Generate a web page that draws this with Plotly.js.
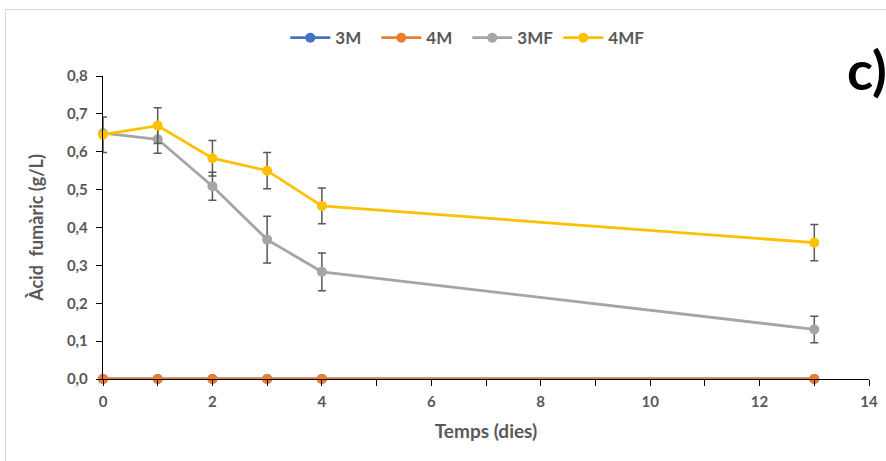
<!DOCTYPE html>
<html>
<head>
<meta charset="utf-8">
<script src="https://cdn.plot.ly/plotly-3.0.1.min.js"></script>
<style>
html,body{margin:0;padding:0;background:#fff;overflow:hidden;}
#chart{width:886px;height:461px;}
#frame{position:absolute;left:5px;top:9px;width:900px;height:500px;border:1px solid #d9d9d9;pointer-events:none;}
</style>
</head>
<body>
<div id="chart"></div>
<div id="frame"></div>
<script>
const days = [0, 1, 2, 3, 4, 13];
const m3 = [0, 0, 0, 0, 0, 0];
const m4 = [0, 0, 0, 0, 0, 0];
const mf3 = [0.649, 0.633, 0.509, 0.368, 0.283, 0.131];
const mf3Err = [0.0, 0.037, 0.037, 0.062, 0.050, 0.035];
const mf4 = [0.645, 0.669, 0.583, 0.550, 0.457, 0.360];
const mf4Err = [0.047, 0.047, 0.047, 0.048, 0.047, 0.048];
const names = ['3M', '4M', '3MF', '4MF'];
const colors = ['#4472C4', '#ED7D31', '#A5A5A5', '#FFC000'];

const fontFam = 'Lato, "Open Sans", Arial, sans-serif';
const gray = '#595959';

function tr(y, i, err) {
  const t = {
    x: days, y: y, name: names[i], type: 'scatter', mode: 'lines+markers',
    cliponaxis: false,
    line: {color: colors[i], width: 2.8},
    marker: {color: colors[i], size: 10}
  };
  if (err) {
    t.error_y = {type: 'data', array: err, visible: true, color: gray, thickness: 1.5, width: 4};
  }
  return t;
}

const data = [tr(m3, 0), tr(m4, 1), tr(mf3, 2, mf3Err), tr(mf4, 3, mf4Err)];

const layout = {
  width: 886, height: 461,
  margin: {l: 103, r: 17, t: 76, b: 82},
  paper_bgcolor: '#fff', plot_bgcolor: '#fff',
  separators: ',.',
  font: {family: fontFam, color: gray},
  showlegend: true,
  legend: {orientation: 'h', x: 0.238, xanchor: 'left', y: 1.125, yanchor: 'middle',
           font: {family: fontFam, size: 17, color: gray, weight: 'bold'}, traceorder: 'normal',
           itemwidth: 40, entrywidth: 36, entrywidthmode: 'pixels'},
  xaxis: {
    range: [0, 14], dtick: 2, tick0: 0, showgrid: false, zeroline: false,
    showline: true, linecolor: '#000', linewidth: 1.2,
    ticks: 'outside', ticklen: 6, tickcolor: '#000', ticklabelstandoff: 3,
    minor: {dtick: 1, ticks: 'outside', ticklen: 6, tickcolor: '#000', showgrid: false},
    tickfont: {family: fontFam, size: 15, color: gray, weight: 'bold'},
    title: {text: 'Temps (dies)', font: {family: fontFam, size: 19, color: gray, weight: 'bold'}, standoff: 15}
  },
  yaxis: {
    range: [0, 0.8], dtick: 0.1, tickformat: '.1f', showgrid: false, zeroline: false,
    showline: true, linecolor: '#000', linewidth: 1.2,
    ticks: 'outside', ticklen: 6, tickcolor: '#000', ticklabelstandoff: 5,
    tickfont: {family: fontFam, size: 15, color: gray, weight: 'bold'},
    title: {text: 'Àcid  fumàric (g/L)', font: {family: fontFam, size: 18, color: gray, weight: 'bold'}, standoff: 18}
  },
  annotations: [{
    text: 'c)', xref: 'paper', yref: 'paper', x: 1.026, y: 1.02, xanchor: 'right', yanchor: 'middle',
    showarrow: false, font: {family: fontFam, size: 54, color: '#000', weight: 'bold'}
  }]
};

Plotly.newPlot('chart', data, layout, {displayModeBar: false, staticPlot: true});
</script>
</body>
</html>
